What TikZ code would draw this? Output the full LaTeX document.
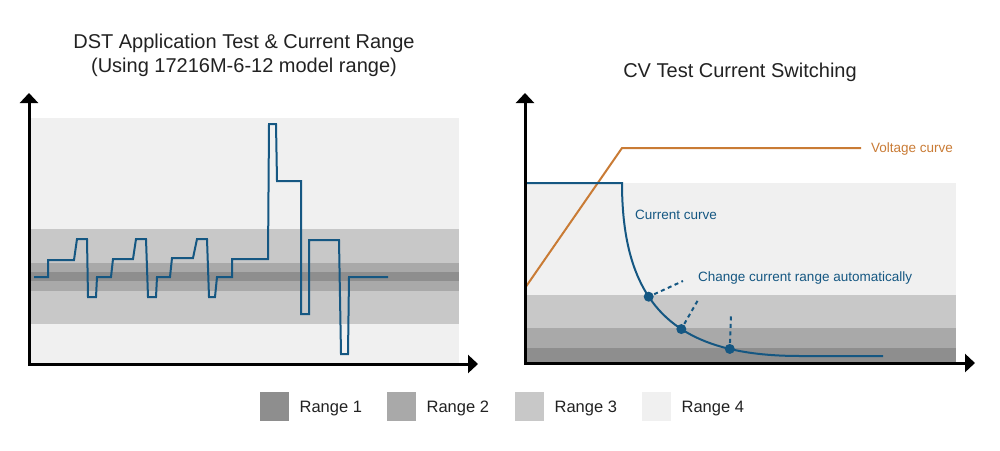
\documentclass[tikz,border=0pt]{standalone}
\usepackage{fontspec}
\setmainfont{Liberation Sans}
\usepackage{tikz}
\usetikzlibrary{positioning,arrows.meta}
\definecolor{range1}{HTML}{8E8E8E}
\definecolor{range2}{HTML}{A9A9A9}
\definecolor{range3}{HTML}{C8C8C8}
\definecolor{range4}{HTML}{F0F0F0}
\definecolor{curblue}{HTML}{155782}
\definecolor{voltorange}{HTML}{C97B35}
\definecolor{ink}{HTML}{222222}

\begin{document}
\begin{tikzpicture}[x=1pt,y=-1pt,
    axis/.style={line width=3pt,black,{Triangle[width=18pt,length=10pt]}-{Triangle[width=18pt,length=10pt]}},
    current/.style={line width=2pt,curblue},
    voltage/.style={line width=2pt,voltorange},
    leader/.style={line width=2pt,curblue,dash pattern=on 4pt off 3.5pt},
    dot/.style={circle,fill=curblue,inner sep=0pt,minimum size=10pt},
    title/.style={font=\fontsize{20}{24}\selectfont,text=ink,inner sep=0pt},
    label/.style={font=\fontsize{13.5}{16}\selectfont,inner sep=0pt},
    legbox/.style={minimum size=29pt,inner sep=0pt},
    legtext/.style={font=\fontsize{16.5}{20}\selectfont,text=ink,inner sep=0pt,text depth=0pt}]
  \useasboundingbox (0,0) rectangle (1000,450);

  % titles
  \node[title,anchor=base] (dst) at (244,48) {DST Application Test \& Current Range};
  \node[title,anchor=base] (dstsub) at (244,72) {(Using 17216M-6-12 model range)};
  \node[title,anchor=base] (cv) at (740,77) {CV Test Current Switching};

  % left chart: range bands
  \fill[range4] (31,118) rectangle (459,364);
  \fill[range3] (31,229) rectangle (459,324);
  \fill[range2] (31,263) rectangle (459,291);
  \fill[range1] (31,272) rectangle (459,281);

  % DST current profile
  \draw[current] (34,277) -- (48,277) -- (48,260) -- (74,260) -- (77,239) -- (87,239)
    -- (88,297) -- (96,297) -- (97,277) -- (111,277) -- (113,259) -- (133,259)
    -- (136,239) -- (146,239) -- (148,297) -- (156,297) -- (157,277) -- (170,277)
    -- (172,258) -- (193,258) -- (197,239) -- (207,239) -- (209,297) -- (215,297)
    -- (217,277) -- (232,277) -- (232,259) -- (268,259) -- (269,124) -- (276,124)
    -- (277,181) -- (301,181) -- (301,314) -- (309,314) -- (309,240) -- (339,240)
    -- (341,354) -- (348,354) -- (349,277) -- (388,277);

  \coordinate (lo) at (29,364);
  \draw[axis] (29,93) -- (lo) -- (478,364);

  % right chart: range bands
  \fill[range4] (525,183) rectangle (956,363);
  \fill[range3] (525,295) rectangle (956,363);
  \fill[range2] (525,328) rectangle (956,363);
  \fill[range1] (525,348) rectangle (956,363);

  \draw[voltage] (525,288) -- (622,148) -- (861,148);
  \node[label,text=voltorange,anchor=base west] (vlab) at (871,152) {Voltage curve};

  \draw[current] (525,183) -- (622,183) .. controls (622,310) and (680,356) .. (800,356)
    node[dot,pos=0.39] (d1) {} node[dot,pos=0.58] (d2) {} node[dot,pos=0.78] (d3) {}
    -- (883,356);
  \node[label,text=curblue,anchor=base west] (clab) at (635,219) {Current curve};
  \node[label,text=curblue,anchor=base west] (chg) at (698,281) {Change current range automatically};

  \coordinate (l1) at (683,281);
  \coordinate (l2) at (698,300);
  \coordinate (l3) at (731,313);
  \draw[leader] (d1) -- (l1);
  \draw[leader] (d2) -- (l2);
  \draw[leader] (d3) -- (l3);

  \coordinate (ro) at (525,363);
  \draw[axis] (525,93) -- (ro) -- (975,363);

  % legend
  \foreach \i/\x in {1/260,2/387,3/515,4/642} {
    \node[legbox,fill=range\i,anchor=north west] (box\i) at (\x,392) {};
    \node[legtext,right=10pt of box\i] (leg\i) {Range \i};
  }
\end{tikzpicture}
\end{document}
